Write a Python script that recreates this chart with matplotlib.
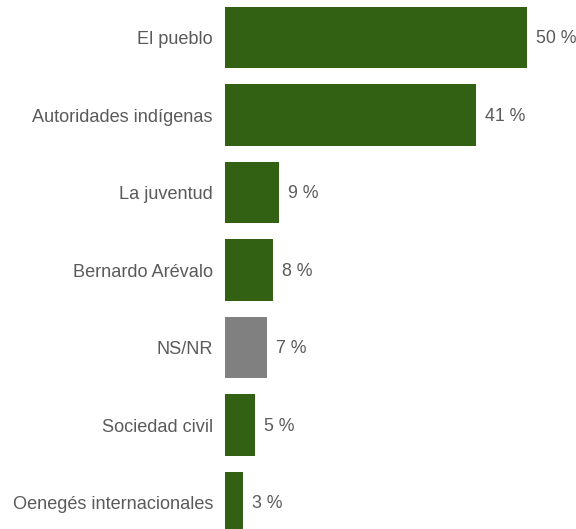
import matplotlib
matplotlib.use("Agg")
import matplotlib.pyplot as plt

# Datos
categorias = ["El pueblo", "Autoridades indígenas", "La juventud", "Bernardo Arévalo",
              "NS/NR", "Sociedad civil", "Oenegés internacionales"]
valores = [50, 41.5, 9, 8, 7, 5, 3]
etiquetas = ["50 %", "41 %", "9 %", "8 %", "7 %", "5 %", "3 %"]
colores = ["#336114", "#336114", "#336114", "#336114", "#808080", "#336114", "#336114"]

plt.rcParams["font.family"] = ["Liberation Sans", "DejaVu Sans"]

fig = plt.figure(figsize=(5.76, 5.29), dpi=100)
# los ejes se salen un poco por abajo, como en el original
ax = fig.add_axes([225 / 576, -12.25 / 529, 351 / 576, 542.5 / 529])

pos = list(range(len(categorias)))
ax.barh(pos, valores, height=0.79, color=colores)
ax.set_ylim(len(categorias) - 0.5, -0.5)
ax.set_xlim(0, 351 / 6.04)

for p, v, t in zip(pos, valores, etiquetas):
    ax.annotate(t, (v, p), xytext=(6.5, -0.8), textcoords="offset points",
                va="center", ha="left", fontsize=12.8, color="#5a5a5a")

ax.set_yticks(pos)
ax.set_yticklabels(categorias, fontsize=13.1, color="#5a5a5a")
ax.tick_params(axis="y", length=0, pad=8.7)
ax.set_xticks([])
for s in ax.spines.values():
    s.set_visible(False)

fig.savefig("out.png", dpi=100)
